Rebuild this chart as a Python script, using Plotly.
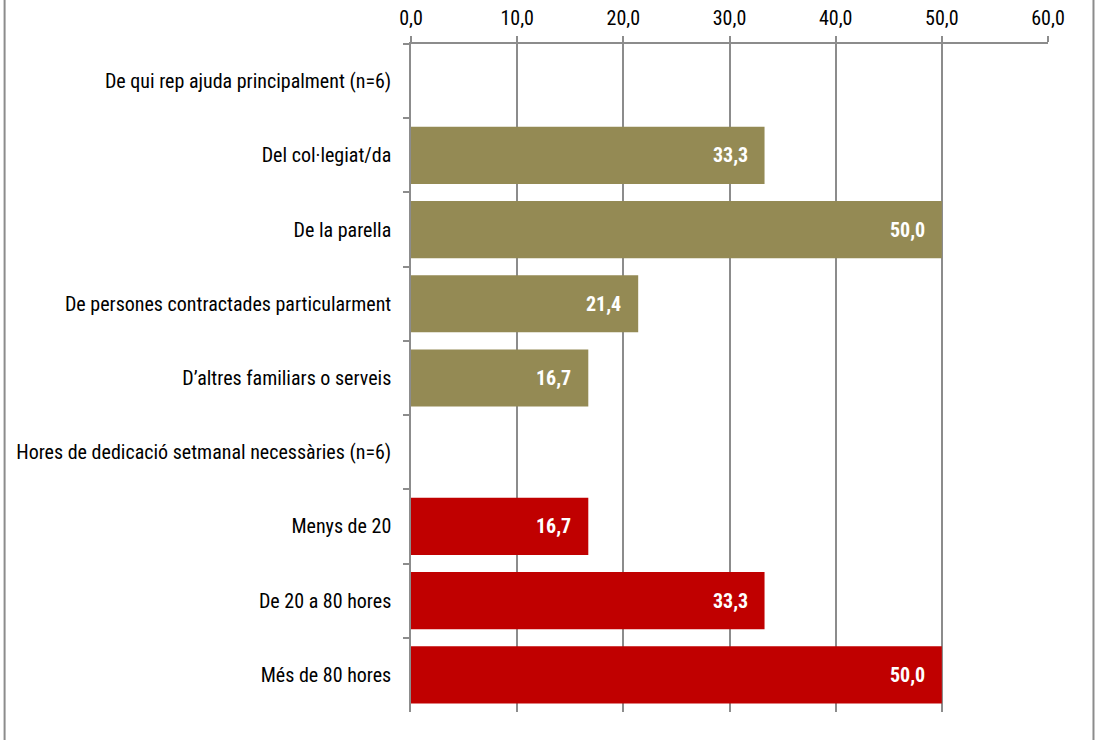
import plotly.graph_objects as go

categories = [
    "De qui rep ajuda principalment (n=6)",
    "Del col·legiat/da",
    "De la parella",
    "De persones contractades particularment",
    "D\u2019altres familiars o serveis",
    "Hores de dedicació setmanal necessàries (n=6)",
    "Menys de 20",
    "De 20 a 80 hores",
    "Més de 80 hores",
]
values = [None, 33.3, 50.0, 21.4, 16.7, None, 16.7, 33.3, 50.0]
groups = ["h", "a", "a", "a", "a", "h", "b", "b", "b"]
group_colors = {"h": "rgba(0,0,0,0)", "a": "#948A54", "b": "#C00000"}
x_ticks = [0, 10, 20, 30, 40, 50, 60]

FONT = "Roboto Condensed, Arial Narrow, Liberation Sans, Arial, sans-serif"

colors = [group_colors[g] for g in groups]

fig = go.Figure()
fig.add_trace(go.Bar(
    x=[v if v is not None else 0 for v in values],
    y=categories,
    orientation="h",
    marker=dict(color=colors, line=dict(width=0)),
    hoverinfo="skip",
))

for c, v in zip(categories, values):
    if v is None:
        continue
    fig.add_annotation(
        x=v, y=c, xref="x", yref="y",
        text=f"<b>{v:.1f}</b>".replace(".", ","),
        showarrow=False, xanchor="right", xshift=-15,
        font=dict(family=FONT, size=20, color="white"),
    )

fig.update_layout(
    width=1095, height=740,
    margin=dict(l=411, r=47, t=44, b=28, autoexpand=False),
    plot_bgcolor="white", paper_bgcolor="white",
    bargap=0.23,
    showlegend=False,
    separators=",.",
    font=dict(family=FONT, size=20, color="black"),
    xaxis=dict(
        side="top", range=[0, 60], tickvals=x_ticks, tickformat=".1f",
        showgrid=True, gridcolor="#8C8C8C", gridwidth=1.5,
        showline=True, linecolor="#8C8C8C", linewidth=1.5,
        ticks="outside", ticklen=6, tickcolor="#8C8C8C", tickwidth=1.5,
        zeroline=False, tickfont=dict(size=20), ticklabelstandoff=3,
        fixedrange=True, automargin=False,
    ),
    yaxis=dict(
        autorange="reversed", type="category",
        showline=True, linecolor="#8C8C8C", linewidth=1.5,
        ticks="outside", ticklen=6, tickcolor="#8C8C8C", tickwidth=1.5,
        tickson="boundaries", showgrid=False,
        tickfont=dict(size=20), ticklabelstandoff=14,
        fixedrange=True, automargin=False,
    ),
    shapes=[
        dict(type="line", xref="paper", yref="paper",
             x0=-0.638, x1=-0.638, y0=-0.2, y1=1.2,
             line=dict(color="#8C8C8C", width=2)),
        dict(type="line", xref="paper", yref="paper",
             x0=1.0714, x1=1.0714, y0=-0.2, y1=1.2,
             line=dict(color="#8C8C8C", width=2)),
    ],
)

fig.write_html(
    "out.html",
    config={"displayModeBar": False},
    post_script="document.body.style.margin='0';document.body.style.overflow='hidden';",
)
